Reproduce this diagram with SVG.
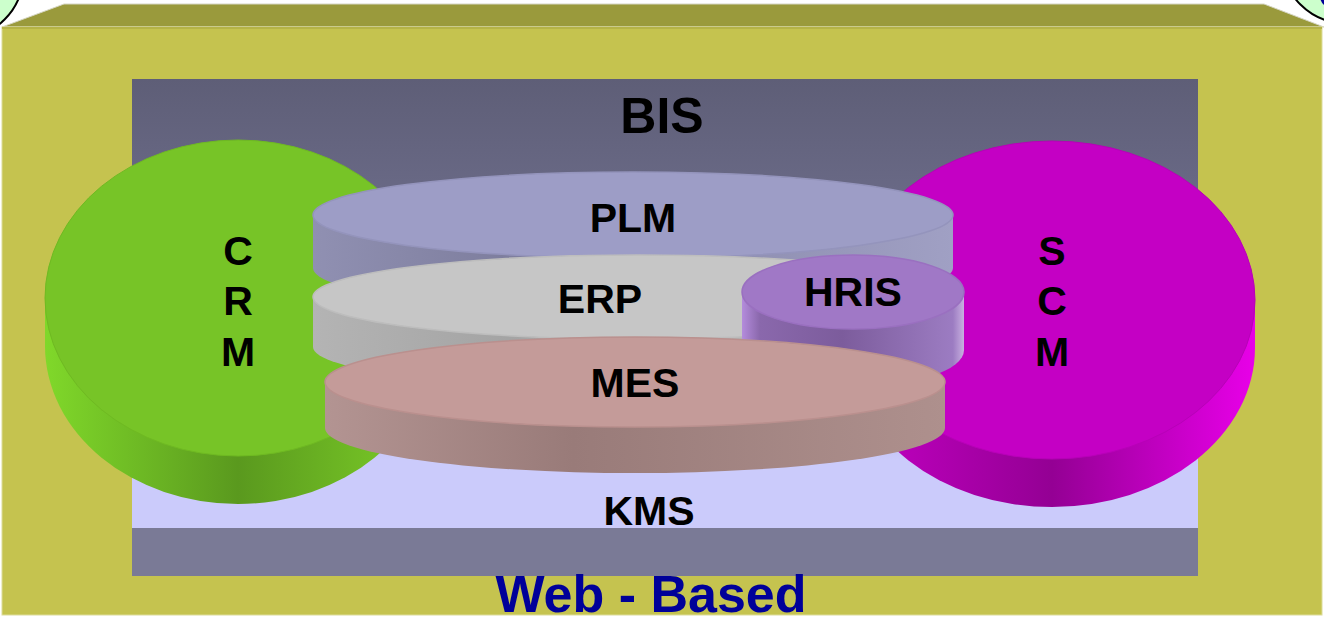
<svg xmlns="http://www.w3.org/2000/svg" width="1324" height="617" viewBox="0 0 1324 617">
<style>
text{font-family:"Liberation Sans",Arial,sans-serif;font-weight:bold;text-anchor:middle;fill:#000}
.lbl{font-size:41px}
</style>
<defs>
<linearGradient id="bg" x1="0" y1="0" x2="0" y2="1">
<stop offset="0" stop-color="#5e5e77"/>
<stop offset="0.3" stop-color="#6b6b88"/>
<stop offset="0.85" stop-color="#cbcbfb"/>
<stop offset="1" stop-color="#cbcbfb"/>
</linearGradient>
<linearGradient id="gSide" x1="0" y1="0" x2="1" y2="0">
<stop offset="0" stop-color="#80d82a"/>
<stop offset="0.5" stop-color="#5a991e"/>
<stop offset="1" stop-color="#7dcf28"/>
</linearGradient>
<linearGradient id="mSide" x1="0" y1="0" x2="1" y2="0">
<stop offset="0" stop-color="#c400c4"/>
<stop offset="0.5" stop-color="#940094"/>
<stop offset="1" stop-color="#e800e8"/>
</linearGradient>
<linearGradient id="pSide" x1="0" y1="0" x2="1" y2="0">
<stop offset="0" stop-color="#9090b2"/>
<stop offset="0.3" stop-color="#7e7e9e"/>
<stop offset="1" stop-color="#a0a0c4"/>
</linearGradient>
<linearGradient id="eSide" x1="0" y1="0" x2="1" y2="0">
<stop offset="0" stop-color="#b4b4b4"/>
<stop offset="0.3" stop-color="#a4a4a4"/>
<stop offset="1" stop-color="#c0c0c0"/>
</linearGradient>
<linearGradient id="hSide" x1="0" y1="0" x2="1" y2="0">
<stop offset="0" stop-color="#b48cdc"/>
<stop offset="0.08" stop-color="#8a68ac"/>
<stop offset="0.45" stop-color="#7c5c9c"/>
<stop offset="0.95" stop-color="#9c7cc2"/>
<stop offset="1" stop-color="#c8b0e0"/>
</linearGradient>
<linearGradient id="mesSide" x1="0" y1="0" x2="1" y2="0">
<stop offset="0" stop-color="#b39492"/>
<stop offset="0.4" stop-color="#997b79"/>
<stop offset="1" stop-color="#ae908d"/>
</linearGradient>
</defs>

<g id="frame">
<circle cx="-40" cy="-25" r="63" fill="#ccffcc" stroke="#000" stroke-width="2"/>
<circle cx="1345" cy="-40" r="63" fill="#ccffcc" stroke="#000" stroke-width="2"/>
<ellipse cx="1334" cy="-4" rx="14" ry="13" fill="#000099"/>
<polygon points="2,27 64,4 1264,4 1324,27" fill="#9a9a3c" stroke="#d6d6c4" stroke-width="1"/>
<rect x="2" y="27" width="1320" height="588" fill="#c5c34f" stroke="#dcdc9a" stroke-width="1"/>
<line x1="2" y1="28" x2="1322" y2="28" stroke="#b5b347" stroke-width="2"/>
</g>

<g id="BIS">
<rect x="132" y="79" width="1066" height="449" fill="url(#bg)"/>
<rect x="132" y="528" width="1066" height="48" fill="#7a7a96"/>
<text x="662" y="133" style="font-size:50px">BIS</text>
</g>

<g id="KMS">
<text class="lbl" x="649" y="525">KMS</text>
</g>

<g id="CRM">
<path d="M45,298 L45,346 A193,158 0 0 0 431,346 L431,298 Z" fill="url(#gSide)"/>
<ellipse cx="238" cy="298" rx="193" ry="158" fill="#77c427" stroke="#6fba22" stroke-width="1"/>
<text class="lbl" x="238" y="265">C</text>
<text class="lbl" x="238" y="315">R</text>
<text class="lbl" x="238" y="366">M</text>
</g>

<g id="SCM">
<path d="M849,300 L849,348 A203,159 0 0 0 1255,348 L1255,300 Z" fill="url(#mSide)"/>
<ellipse cx="1052" cy="300" rx="203" ry="159" fill="#c400c4" stroke="#b800b8" stroke-width="1"/>
<text class="lbl" x="1052" y="265">S</text>
<text class="lbl" x="1052" y="315">C</text>
<text class="lbl" x="1052" y="366">M</text>
</g>

<g id="PLM">
<path d="M313,215 L313,268 A320,43 0 0 0 953,268 L953,215 Z" fill="url(#pSide)"/>
<ellipse cx="633" cy="215" rx="320" ry="43" fill="#9d9dc6" stroke="#9494bc" stroke-width="1.5"/>
<text class="lbl" x="633" y="232">PLM</text>
</g>

<g id="ERP">
<path d="M313,297 L313,347 A325,42 0 0 0 963,347 L963,297 Z" fill="url(#eSide)"/>
<ellipse cx="638" cy="297" rx="325" ry="42" fill="#c6c6c6" stroke="#bdbdbd" stroke-width="1.5"/>
<text class="lbl" x="600" y="313">ERP</text>
</g>

<g id="HRIS">
<path d="M742,292 L742,350 A111,37 0 0 0 964,350 L964,292 Z" fill="url(#hSide)"/>
<ellipse cx="853" cy="292" rx="111" ry="37" fill="#a078c6" stroke="#9a70c0" stroke-width="1.5"/>
<text class="lbl" x="853" y="306">HRIS</text>
</g>

<g id="MES">
<path d="M325,382 L325,428 A310,45 0 0 0 945,428 L945,382 Z" fill="url(#mesSide)"/>
<ellipse cx="635" cy="382" rx="310" ry="45" fill="#c49b99" stroke="#ba908e" stroke-width="1.5"/>
<text class="lbl" x="635" y="397">MES</text>
</g>

<g id="connectors"></g>

<g id="WebBased">
<text x="651" y="612" style="font-size:52px;fill:#000099">Web - Based</text>
</g>
</svg>
